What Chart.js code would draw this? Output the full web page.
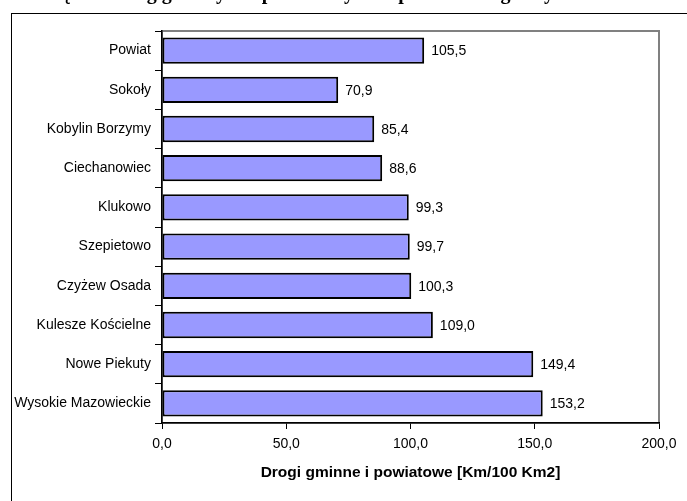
<!DOCTYPE html>
<html>
<head>
<meta charset="utf-8">
<script src="https://cdn.jsdelivr.net/npm/chart.js@4"></script>
<style>
  body { margin: 0; background: #fff; }
  canvas { display: block; }
</style>
</head>
<body>
<canvas id="chart" width="687" height="501"></canvas>
<script>
// Data
const gminy = ['Powiat', 'Sokoły', 'Kobylin Borzymy', 'Ciechanowiec', 'Klukowo', 'Szepietowo',
  'Czyżew Osada', 'Kulesze Kościelne', 'Nowe Piekuty', 'Wysokie Mazowieckie'];
const gestosc = [105.5, 70.9, 85.4, 88.6, 99.3, 99.7, 100.3, 109.0, 149.4, 153.2];
const xTicks = [0, 50, 100, 150, 200];
const xTitle = 'Drogi gminne i powiatowe [Km/100 Km2]';
const pageTitle = 'Gęstość dróg gminnych i powiatowych w podziale na gminy';

const fmt = v => v.toFixed(1).replace('.', ',');
const font = { family: 'Arial, "Liberation Sans", sans-serif', size: 14 };

// frame, plot border, clipped heading and value labels
const decor = {
  id: 'decor',
  beforeDraw(chart) {
    const { ctx, chartArea: a } = chart;
    ctx.save();
    ctx.fillStyle = '#000';
    ctx.font = 'bold 20px "Liberation Serif", "Times New Roman", serif';
    ctx.textAlign = 'center';
    ctx.textBaseline = 'alphabetic';
    ctx.fillText(pageTitle, 300, -1);
    ctx.strokeStyle = '#000';
    ctx.lineWidth = 1;
    ctx.strokeRect(11.5, 13.5, 700, 520);
    ctx.strokeStyle = '#808080';
    ctx.lineWidth = 2;
    ctx.strokeRect(a.left, a.top, a.right - a.left, a.bottom - a.top);
    ctx.restore();
  },
  afterDatasetsDraw(chart) {
    const { ctx } = chart;
    const meta = chart.getDatasetMeta(0);
    ctx.save();
    ctx.fillStyle = '#000';
    ctx.font = '14px Arial, "Liberation Sans", sans-serif';
    ctx.textAlign = 'left';
    ctx.textBaseline = 'middle';
    meta.data.forEach((bar, i) => {
      ctx.fillText(fmt(gestosc[i]), bar.x + 7, bar.y + 1);
    });
    ctx.restore();
  }
};

new Chart(document.getElementById('chart'), {
  type: 'bar',
  data: {
    labels: gminy,
    datasets: [{
      data: gestosc,
      backgroundColor: '#9999FF',
      borderColor: '#000',
      borderWidth: 2,
      borderSkipped: false,
      barPercentage: 0.67,
      categoryPercentage: 1
    }]
  },
  options: {
    indexAxis: 'y',
    responsive: false,
    animation: false,
    layout: { padding: { left: 12, top: 31, right: 28, bottom: 0 } },
    plugins: { legend: { display: false }, tooltip: { enabled: false } },
    scales: {
      x: {
        min: 0,
        max: 200,
        afterBuildTicks: scale => { scale.ticks = xTicks.map(v => ({ value: v })); },
        afterFit: scale => { scale.height = 78; },
        grid: { drawOnChartArea: false, tickLength: 6, color: '#000' },
        border: { color: '#000', width: 1.5 },
        ticks: { color: '#000', font, padding: 7, callback: v => fmt(v), maxRotation: 0 },
        title: {
          display: true,
          text: xTitle,
          color: '#000',
          font: { family: font.family, size: 15.5, weight: 'bold' },
          padding: { top: 0, bottom: 19 }
        }
      },
      y: {
        afterFit: scale => { scale.width = 150; },
        grid: { drawOnChartArea: false, offset: true, tickLength: 7, color: '#000' },
        border: { color: '#000', width: 1.5 },
        ticks: { color: '#000', font, padding: 4 }
      }
    }
  },
  plugins: [decor]
});
</script>
</body>
</html>
